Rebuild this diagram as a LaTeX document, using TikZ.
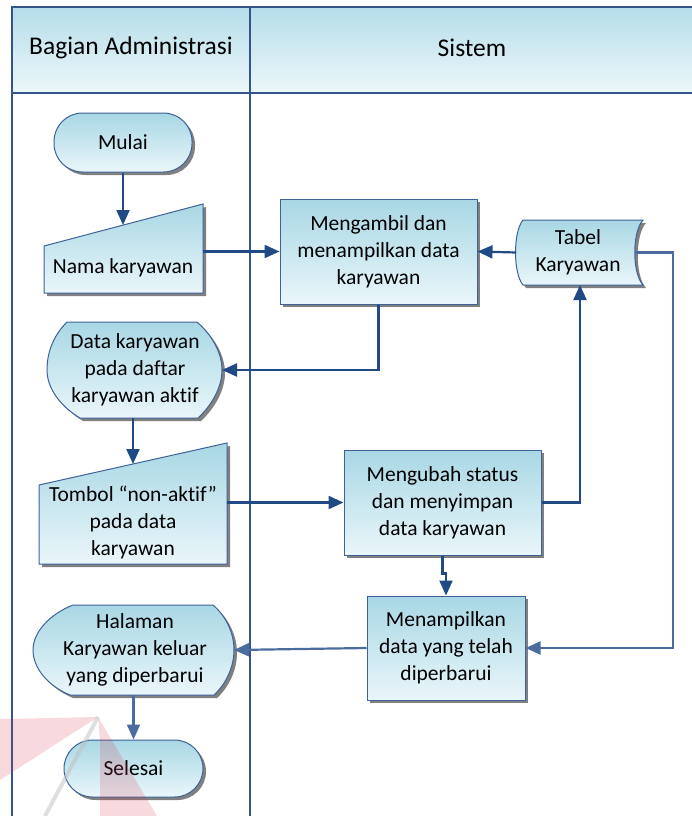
\documentclass[tikz,border=0pt]{standalone}
\usepackage{fontspec}
\setmainfont[Ligatures={NoCommon}]{Carlito}
\usetikzlibrary{arrows.meta,calc}
\definecolor{lanebd}{HTML}{34548C}
\definecolor{shapebd}{HTML}{3E6297}
\definecolor{flowdk}{HTML}{1F4A86}
\definecolor{flowlt}{HTML}{4B6C9F}
\definecolor{filltop}{HTML}{A8D7E4}
\definecolor{fillbot}{HTML}{EAF6FA}
\definecolor{hdrtop}{HTML}{B5DDE9}
\definecolor{hdrbot}{HTML}{EDF7FA}
\definecolor{markred}{HTML}{D9304A}
\begin{document}
\begin{tikzpicture}[x=1pt,y=-1pt,
  txt/.style={font=\fontsize{21.5}{27}\selectfont, align=center, text=black, inner sep=0pt},
  hdr/.style={font=\fontsize{25.5}{30}\selectfont, text=black, inner sep=0pt},
  shadowed/.style={preaction={fill=black!50, transform canvas={shift={(3pt,-3pt)}}}},
  shapefill/.style={top color=filltop, bottom color=fillbot, draw=shapebd, line width=1pt, shadowed},
  procbox/.style={shapefill, rectangle, minimum width=197pt, minimum height=105pt, txt},
  termbox/.style={shapefill, rectangle, rounded corners=28.5pt, txt},
  flow/.style={draw=flowdk, line width=2.2pt, -{Triangle[length=15pt,width=13pt]}},
  flowl/.style={flow, draw=flowlt},
  lane/.style={draw=lanebd, line width=1.4pt}
]
\useasboundingbox (0,0) rectangle (691,816);

% swimlane header and lane borders
\shade[top color=hdrtop, bottom color=hdrbot] (12,7) rectangle (700,93);
\draw[lane] (12,816) -- (12,7) -- (700,7);
\draw[lane] (12,93) -- (700,93);
\draw[lane] (250,7) -- (250,816);
\node[hdr] (laneA) at (131,48) {Bagian Administrasi};
\node[hdr] (laneB) at (472,48) {Sistem};

% terminators
\node[termbox, minimum width=138pt, minimum height=59pt] (mulai) at (123,142.5) {Mulai};
\node[termbox, minimum width=139pt, minimum height=57pt] (selesai) at (133.5,768.5) {Selesai};

% manual input: Nama karyawan
\path[shapefill] (44,246) -- (203,204) -- (203,293) -- (44,293) -- cycle;
\node[txt] (nama) at (123,268) {Nama karyawan};
\coordinate (namaTop) at (123,225);
\coordinate (namaE) at (203,251.5);

% manual input: Tombol non-aktif
\path[shapefill] (39,485) -- (227,443) -- (227,564) -- (39,564) -- cycle;
\node[txt] (tombol) at (133,522) {Tombol \textquotedblleft non-aktif\textquotedblright\\pada data\\karyawan};
\coordinate (tombolTop) at (133,464);
\coordinate (tombolE) at (227,502.5);

% display: Data karyawan
\path[shapefill] (67,322) -- (197,322)
  .. controls (211,334) and (222,352) .. (222,370)
  .. controls (222,388) and (211,406) .. (198,418)
  -- (80,418)
  .. controls (60,406) and (47,388) .. (47,370)
  .. controls (47,350) and (55,334) .. (67,322) -- cycle;
\node[txt] (data) at (135,370) {Data karyawan\\pada daftar\\karyawan aktif};
\coordinate (dataE) at (222,370);
\coordinate (dataS) at (133,418);

% display: Halaman keluar
\path[shapefill] (73,605) -- (213,605)
  .. controls (226,616) and (234,633) .. (234,650)
  .. controls (234,667) and (226,684) .. (214,695)
  -- (70,695)
  .. controls (48,686) and (33,668) .. (33,650)
  .. controls (33,632) and (50,614) .. (73,605) -- cycle;
\node[txt] (halaman) at (135,650) {Halaman\\Karyawan keluar\\yang diperbarui};
\coordinate (halamanE) at (234,650);
\coordinate (halamanS) at (133.5,695);

% stored data: Tabel Karyawan
\path[shapefill] (523,220) -- (643,220)
  .. controls (632,232) and (632,273) .. (643,285)
  -- (523,285)
  .. controls (513,273) and (513,232) .. (523,220) -- cycle;
\node[txt] (tabel) at (578,252) {Tabel\\Karyawan};
\coordinate (tabelW) at (516,252.5);
\coordinate (tabelE) at (635,252.5);
\coordinate (tabelS) at (580,285);

% processes
\node[procbox] (ambil) at (378.5,251.5) {Mengambil dan\\menampilkan data\\karyawan};
\node[procbox] (ubah) at (442.5,502.5) {Mengubah status\\dan menyimpan\\data karyawan};
\node[procbox, minimum width=158pt, minimum height=104pt] (tampil) at (446,648) {Menampilkan\\data yang telah\\diperbarui};

% connectors
\draw[flow] (mulai.south) -- (namaTop);
\draw[flow] (namaE) -- (ambil.west);
\draw[flow] (tabelW) -- (ambil.east);
\draw[flow] (ambil.south) |- (dataE);
\draw[flow] (dataS) -- (tombolTop);
\draw[flow] (tombolE) -- (ubah.west);
\draw[flow] (ubah.east) -| (tabelS);
\draw[flow] (ubah.south) |- ($(tampil.north)+(0,-22)$) -- (tampil.north);
\draw[flowl] (tabelE) -- ++(38,0) |- (tampil.east);
\draw[flowl] (tampil.west) -- (halamanE);
\draw[flowl] (halamanS) -- (selesai.north);

% faint mark in the lower corner
\fill[markred, opacity=0.18] (0,719) -- (98,717) -- (0,780) -- cycle;
\fill[markred, opacity=0.18] (98,717) -- (157,816) -- (100,816) -- (100,742) -- cycle;
\draw[black!25, line width=4pt, opacity=0.5] (98,717) -- (45,816);
\end{tikzpicture}
\end{document}
